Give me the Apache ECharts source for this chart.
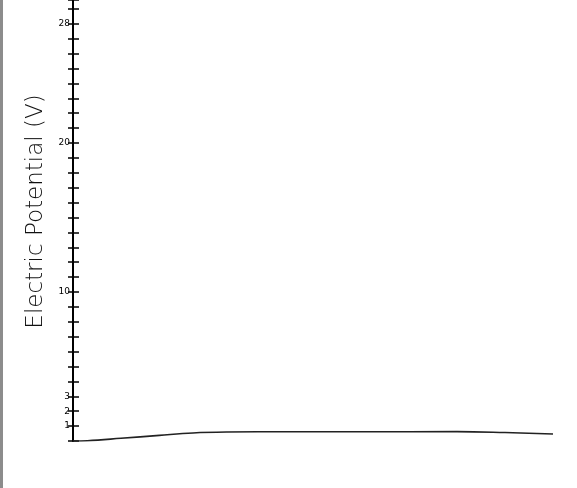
<!DOCTYPE html>
<html>
<head>
<meta charset="utf-8">
<script src="https://cdn.jsdelivr.net/npm/echarts@6/dist/echarts.min.js"></script>
<style>
html,body{margin:0;padding:0;background:#fff;}
#c{width:577px;height:488px;}
</style>
</head>
<body>
<div id="c"></div>
<script>
// Data
const yTitle = 'Electric Potential (V)';
const labeledTicks = [1, 2, 3, 10, 20, 28];
const xPos = [0, 3, 10, 18, 25, 32, 45, 60, 80, 90, 100];
const potential = [0, 0.02, 0.18, 0.38, 0.54, 0.6, 0.62, 0.62, 0.63, 0.57, 0.47];

const chart = echarts.init(document.getElementById('c'));
const yBase = {
  type: 'value', min: 0, max: 29.6, interval: 1, position: 'left',
  splitLine: { show: false }
};
chart.setOption({
  animation: false,
  backgroundColor: '#fff',
  graphic: [{ type: 'rect', left: 0, top: 0, shape: { width: 3, height: 488 }, style: { fill: '#8c8c8c' } }],
  grid: { left: 73, right: 24, top: 0, bottom: 47 },
  xAxis: { type: 'value', min: 0, max: 100, show: false },
  yAxis: [
    Object.assign({}, yBase, {
      name: yTitle, nameLocation: 'middle', nameGap: 22, nameRotate: 90,
      nameTextStyle: { fontFamily: 'DejaVu Sans', fontSize: 23, color: '#111', fontWeight: 'lighter', padding: [0, 0, 0, 18] },
      axisLine: { show: true, lineStyle: { color: '#000', width: 2 } },
      axisTick: { show: true, length: 5, lineStyle: { color: '#000', width: 1.5 } },
      axisLabel: {
        show: true, margin: 3, fontSize: 9, color: '#000', fontFamily: 'DejaVu Sans',
        formatter: v => labeledTicks.includes(v) ? String(v) : ''
      }
    }),
    Object.assign({}, yBase, {
      axisLine: { show: false },
      axisTick: { show: true, inside: true, length: 6, lineStyle: { color: '#000', width: 1.5 } },
      axisLabel: { show: false }
    })
  ],
  series: [{
    type: 'line', yAxisIndex: 0, smooth: 0.4, symbol: 'none',
    data: xPos.map((x, i) => [x, potential[i]]),
    lineStyle: { color: '#222', width: 1.6 }
  }]
});
</script>
</body>
</html>
